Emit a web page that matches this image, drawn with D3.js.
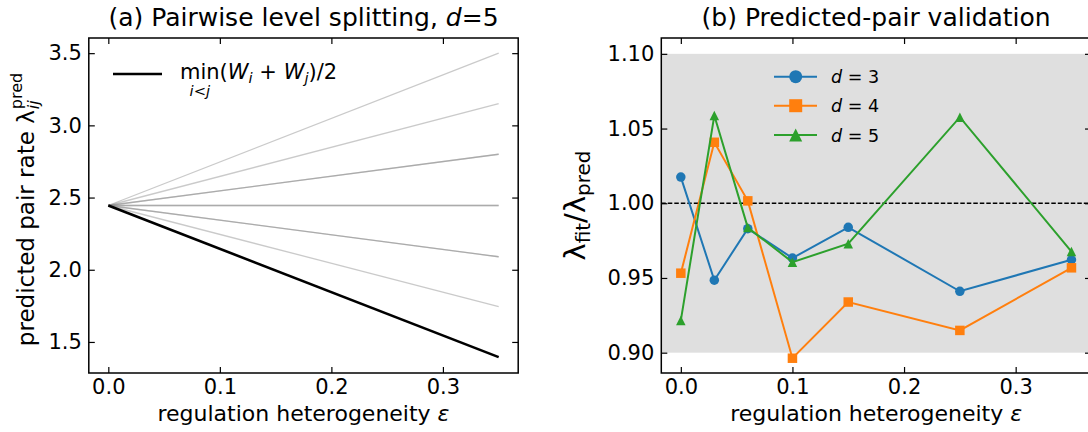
<!DOCTYPE html>
<html>
<head>
<meta charset="utf-8">
<script src="https://cdn.jsdelivr.net/npm/d3@7"></script>
<style>
  body { margin: 0; background: #fff; }
  svg { display: block; }
  text { font-family: "DejaVu Sans", sans-serif; fill: #000; }
</style>
</head>
<body>
<svg id="chart" width="1088" height="432"></svg>
<script>
// (a) pair rates for d=5, every line starts at the same rate at eps=0
const epsRange = [0, 0.35];
const startRate = 2.445;
const pairEnds = [3.50, 3.15, 2.80, 2.80, 2.445, 2.445, 2.09, 2.09, 1.745];
const minPairEnd = 1.395;

// (b) fitted / predicted ratio
const epsValues = [0, 0.03, 0.06, 0.1, 0.15, 0.25, 0.35];
const ratioD3 = [1.0175, 0.9485, 0.983, 0.9633, 0.9839, 0.9411, 0.9622];
const ratioD4 = [0.9532, 1.0408, 1.0016, 0.8963, 0.9339, 0.9149, 0.9568];
const ratioD5 = [0.9216, 1.0587, 0.9837, 0.9606, 0.9729, 1.0576, 0.9677];
const seriesNames = ['3', '4', '5'];

const xTicks = [0, 0.1, 0.2, 0.3];
const yTicksA = [1.5, 2.0, 2.5, 3.0, 3.5];
const yTicksB = [0.90, 0.95, 1.00, 1.05, 1.10];

const tickFont = 21;
const labelFont = 22;
const svg = d3.select('#chart');

function panel(left, right, top, bottom, xDom, yDom, yTicks, yFmt) {
  const w = right - left;
  const h = bottom - top;
  const x = d3.scaleLinear().domain(xDom).range([0, w]);
  const y = d3.scaleLinear().domain(yDom).range([h, 0]);
  const g = svg.append('g').attr('transform', `translate(${left},${top})`);
  const plot = g.append('g');

  const styleAxis = (sel) => {
    sel.attr('font-size', tickFont).attr('font-family', '"DejaVu Sans", sans-serif');
    sel.select('.domain').remove();
    sel.selectAll('.tick line').attr('stroke', '#000').attr('stroke-width', 1.2);
  };
  g.append('g').attr('transform', `translate(0,${h})`)
    .call(d3.axisBottom(x).tickValues(xTicks).tickFormat(d3.format('.1f')).tickSize(-6).tickPadding(6))
    .call(styleAxis);
  g.append('g')
    .call(d3.axisTop(x).tickValues(xTicks).tickFormat('').tickSize(-6))
    .call(styleAxis);
  g.append('g')
    .call(d3.axisLeft(y).tickValues(yTicks).tickFormat(d3.format(yFmt)).tickSize(-6).tickPadding(7))
    .call(styleAxis);
  g.append('g').attr('transform', `translate(${w},0)`)
    .call(d3.axisRight(y).tickValues(yTicks).tickFormat('').tickSize(-6))
    .call(styleAxis);
  g.append('rect')
    .attr('width', w).attr('height', h)
    .attr('fill', 'none').attr('stroke', '#000').attr('stroke-width', 1.5);
  return { x, y, g, plot, w, h, cx: left + w / 2, cy: top + h / 2 };
}

function xLabel(cx) {
  svg.append('text').attr('x', cx).attr('y', 421).attr('text-anchor', 'middle')
    .attr('font-size', labelFont)
    .call((t) => {
      t.append('tspan').text('regulation heterogeneity ');
      t.append('tspan').attr('font-style', 'italic').text('ε');
    });
}

// ---------- panel (a) ----------
const A = panel(88.8, 518.2, 38, 373, [-0.0175, 0.3675], [1.285, 3.605], yTicksA, '.1f');

pairEnds.forEach((end) => {
  A.plot.append('line')
    .attr('x1', A.x(epsRange[0])).attr('y1', A.y(startRate))
    .attr('x2', A.x(epsRange[1])).attr('y2', A.y(end))
    .attr('stroke', 'gray').attr('stroke-opacity', 0.42).attr('stroke-width', 1.3);
});
A.plot.append('line')
  .attr('x1', A.x(epsRange[0])).attr('y1', A.y(startRate))
  .attr('x2', A.x(epsRange[1])).attr('y2', A.y(minPairEnd))
  .attr('stroke', '#000').attr('stroke-width', 2.6);

// legend (a)
svg.append('line').attr('x1', 113).attr('x2', 162).attr('y1', 74).attr('y2', 74)
  .attr('stroke', '#000').attr('stroke-width', 2.6);
const minT = svg.append('text').attr('x', 180).attr('y', 79).attr('font-size', 21).text('min');
const minW = minT.node().getComputedTextLength();
svg.append('text').attr('x', 180 + minW / 2).attr('y', 96).attr('text-anchor', 'middle')
  .attr('font-size', 14.7).attr('font-style', 'italic').text('i<j');
const legA = svg.append('text').attr('x', 180 + minW).attr('y', 79).attr('font-size', 21);
legA.append('tspan').text('(');
legA.append('tspan').attr('font-style', 'italic').text('W');
legA.append('tspan').attr('font-style', 'italic').attr('font-size', 14.7).attr('dy', 4).text('i');
legA.append('tspan').attr('dy', -4).text(' + ');
legA.append('tspan').attr('font-style', 'italic').text('W');
legA.append('tspan').attr('font-style', 'italic').attr('font-size', 14.7).attr('dy', 4).text('j');
legA.append('tspan').attr('dy', -4).text(')/2');

svg.append('text').attr('x', A.cx).attr('y', 26).attr('text-anchor', 'middle')
  .attr('font-size', 25)
  .call((t) => {
    t.append('tspan').text('(a) Pairwise level splitting, ');
    t.append('tspan').attr('font-style', 'italic').text('d');
    t.append('tspan').text('=5');
  });
xLabel(A.cx);

// y label (a) with stacked sub/superscript
const ylA = svg.append('g');
const yl1 = ylA.append('text').attr('font-size', 23).text('predicted pair rate λ');
const ylW = yl1.node().getComputedTextLength();
const yl2 = ylA.append('text').attr('x', ylW + 1).attr('y', 5).attr('font-size', 16)
  .attr('font-style', 'italic').text('ij');
const yl3 = ylA.append('text').attr('x', ylW + 1).attr('y', -12).attr('font-size', 16).text('pred');
const ylTot = ylW + 1 + Math.max(yl2.node().getComputedTextLength(), yl3.node().getComputedTextLength());
ylA.attr('transform', `translate(34,${A.cy + 4}) rotate(-90) translate(${-ylTot / 2},0)`);

// ---------- panel (b) ----------
const B = panel(661.3, 1091, 38, 373, [-0.0175, 0.3675], [0.8864, 1.1106], yTicksB, '.2f');

B.plot.append('rect')
  .attr('x', 0).attr('width', B.w)
  .attr('y', B.y(1.10)).attr('height', B.y(0.90) - B.y(1.10))
  .attr('fill', '#dfdfdf');
B.plot.append('line')
  .attr('x1', 0).attr('x2', B.w).attr('y1', B.y(1.0)).attr('y2', B.y(1.0))
  .attr('stroke', '#000').attr('stroke-width', 1.3).attr('stroke-dasharray', '4.5,2');

const colors = ['#1f77b4', '#ff7f0e', '#2ca02c'];
const shapes = ['circle', 'square', 'triangle'];

function marker(sel, shape, ms, color) {
  const r = ms / 2;
  if (shape === 'circle') {
    sel.append('circle').attr('r', r).attr('fill', color);
  } else if (shape === 'square') {
    sel.append('rect').attr('x', -r).attr('y', -r).attr('width', ms).attr('height', ms).attr('fill', color);
  } else {
    sel.append('path').attr('d', `M0,${-r}L${-r},${r}L${r},${r}Z`).attr('fill', color);
  }
}

const line = d3.line().x((d) => B.x(d[0])).y((d) => B.y(d[1]));
[ratioD3, ratioD4, ratioD5].forEach((vals, k) => {
  const pts = epsValues.map((e, i) => [e, vals[i]]);
  B.plot.append('path').attr('d', line(pts))
    .attr('fill', 'none').attr('stroke', colors[k]).attr('stroke-width', 2);
  pts.forEach((p) => {
    const m = B.plot.append('g').attr('transform', `translate(${B.x(p[0])},${B.y(p[1])})`);
    marker(m, shapes[k], 9.5, colors[k]);
  });
});

// legend (b)
const legRows = [76.7, 105.7, 135];
seriesNames.forEach((name, k) => {
  const row = svg.append('g').attr('transform', `translate(0,${legRows[k]})`);
  row.append('line').attr('x1', 774).attr('x2', 817).attr('stroke', colors[k]).attr('stroke-width', 2);
  const m = row.append('g').attr('transform', 'translate(795.7,0)');
  marker(m, shapes[k], 13, colors[k]);
  const t = row.append('text').attr('x', 831).attr('y', 6.5).attr('font-size', 17.5);
  t.append('tspan').attr('font-style', 'italic').text('d');
  t.append('tspan').text(` = ${name}`);
});

svg.append('text').attr('x', B.cx).attr('y', 26).attr('text-anchor', 'middle')
  .attr('font-size', 25).text('(b) Predicted-pair validation');
xLabel(B.cx);

svg.append('text')
  .attr('transform', `translate(585,${B.cy}) rotate(-90)`)
  .attr('text-anchor', 'middle').attr('font-size', 29)
  .call((t) => {
    t.append('tspan').text('λ');
    t.append('tspan').attr('font-size', 20).attr('dy', 5).text('fit');
    t.append('tspan').attr('dy', -5).text('/λ');
    t.append('tspan').attr('font-size', 20).attr('dy', 5).text('pred');
  });
</script>
</body>
</html>
